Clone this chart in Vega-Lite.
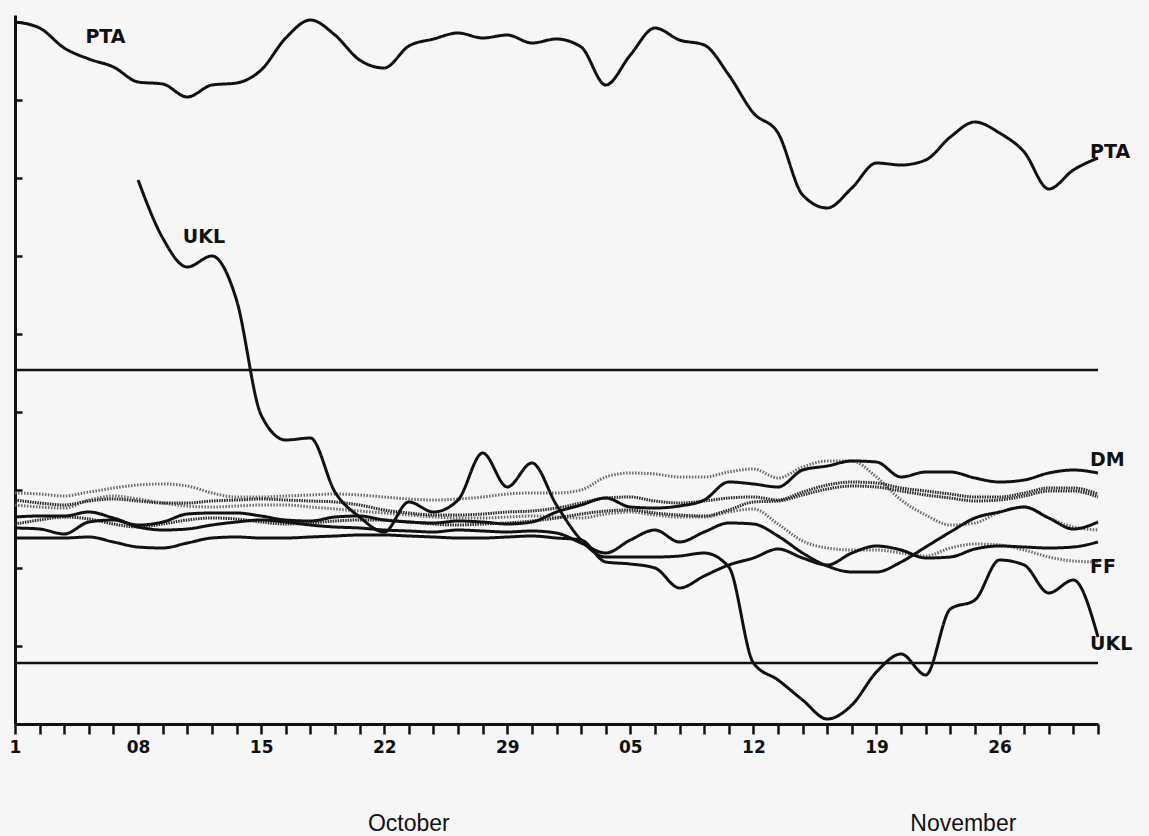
{
  "$schema": "https://vega.github.io/schema/vega-lite/v6.json",
  "width": 1083,
  "height": 709,
  "autosize": {"type": "none"},
  "padding": {"left": 15, "top": 15, "right": 51, "bottom": 112},
  "background": "#f6f6f6",
  "config": {"view": {"stroke": null}, "font": "DejaVu Sans"},
  "datasets": {
    "rates": [
      {"d":"1992-10-01","PTA":702,"DM":207,"BFR":224,"HFL":200,"DKR":231,"FF":219,"ESC":196,"IRL":186},
      {"d":"1992-10-02","PTA":696,"DM":208,"BFR":221,"HFL":204,"DKR":230,"FF":217,"ESC":195,"IRL":186},
      {"d":"1992-10-05","PTA":676,"DM":208,"BFR":219,"HFL":207,"DKR":228,"FF":216,"ESC":190,"IRL":186},
      {"d":"1992-10-06","PTA":665,"DM":212,"BFR":223,"HFL":205,"DKR":232,"FF":224,"ESC":202,"IRL":187},
      {"d":"1992-10-07","PTA":657,"DM":206,"BFR":225,"HFL":200,"DKR":236,"FF":228,"ESC":204,"IRL":182},
      {"d":"1992-10-08","PTA":642,"UKL":544,"DM":199,"BFR":223,"HFL":197,"DKR":239,"FF":225,"ESC":197,"IRL":177},
      {"d":"1992-10-09","PTA":640,"UKL":486,"DM":202,"BFR":221,"HFL":200,"DKR":240,"FF":221,"ESC":194,"IRL":176},
      {"d":"1992-10-12","PTA":627,"UKL":457,"DM":210,"BFR":221,"HFL":204,"DKR":238,"FF":218,"ESC":195,"IRL":181},
      {"d":"1992-10-13","PTA":639,"UKL":468,"DM":211,"BFR":223,"HFL":206,"DKR":231,"FF":217,"ESC":199,"IRL":186},
      {"d":"1992-10-14","PTA":641,"UKL":424,"DM":211,"BFR":224,"HFL":205,"DKR":227,"FF":218,"ESC":202,"IRL":187},
      {"d":"1992-10-15","PTA":654,"UKL":309,"DM":208,"BFR":225,"HFL":202,"DKR":227,"FF":219,"ESC":204,"IRL":186},
      {"d":"1992-10-16","PTA":686,"UKL":284,"DM":204,"BFR":224,"HFL":200,"DKR":228,"FF":219,"ESC":202,"IRL":186},
      {"d":"1992-10-19","PTA":704,"UKL":286,"DM":203,"BFR":223,"HFL":201,"DKR":229,"FF":217,"ESC":199,"IRL":187},
      {"d":"1992-10-20","PTA":689,"UKL":232,"DM":207,"BFR":222,"HFL":203,"DKR":230,"FF":215,"ESC":197,"IRL":188},
      {"d":"1992-10-21","PTA":664,"UKL":207,"DM":208,"BFR":219,"HFL":204,"DKR":229,"FF":213,"ESC":196,"IRL":189},
      {"d":"1992-10-22","PTA":656,"UKL":192,"DM":204,"BFR":214,"HFL":204,"DKR":227,"FF":211,"ESC":194,"IRL":189},
      {"d":"1992-10-23","PTA":678,"UKL":222,"DM":202,"BFR":211,"HFL":202,"DKR":225,"FF":209,"ESC":193,"IRL":188},
      {"d":"1992-10-26","PTA":685,"UKL":212,"DM":201,"BFR":209,"HFL":200,"DKR":224,"FF":207,"ESC":192,"IRL":187},
      {"d":"1992-10-27","PTA":691,"UKL":224,"DM":203,"BFR":209,"HFL":199,"DKR":225,"FF":206,"ESC":194,"IRL":186},
      {"d":"1992-10-28","PTA":686,"UKL":271,"DM":202,"BFR":210,"HFL":200,"DKR":227,"FF":206,"ESC":193,"IRL":186},
      {"d":"1992-10-29","PTA":689,"UKL":237,"DM":200,"BFR":212,"HFL":201,"DKR":230,"FF":207,"ESC":192,"IRL":187},
      {"d":"1992-10-30","PTA":681,"UKL":261,"DM":202,"BFR":213,"HFL":203,"DKR":231,"FF":208,"ESC":193,"IRL":188},
      {"d":"1992-11-02","PTA":685,"UKL":219,"DM":212,"BFR":216,"HFL":206,"DKR":231,"FF":207,"ESC":191,"IRL":186},
      {"d":"1992-11-03","PTA":677,"UKL":184,"DM":219,"BFR":221,"HFL":210,"DKR":234,"FF":206,"ESC":181,"IRL":184},
      {"d":"1992-11-04","PTA":639,"UKL":167,"DM":226,"BFR":226,"HFL":213,"DKR":247,"FF":210,"ESC":171,"IRL":162},
      {"d":"1992-11-05","PTA":669,"UKL":167,"DM":217,"BFR":227,"HFL":214,"DKR":251,"FF":212,"ESC":184,"IRL":160},
      {"d":"1992-11-06","PTA":696,"UKL":167,"DM":216,"BFR":223,"HFL":211,"DKR":250,"FF":209,"ESC":194,"IRL":156},
      {"d":"1992-11-09","PTA":684,"UKL":168,"DM":218,"BFR":221,"HFL":209,"DKR":247,"FF":207,"ESC":182,"IRL":136},
      {"d":"1992-11-10","PTA":679,"UKL":171,"DM":224,"BFR":223,"HFL":208,"DKR":247,"FF":207,"ESC":192,"IRL":148},
      {"d":"1992-11-11","PTA":649,"UKL":157,"DM":242,"BFR":226,"HFL":214,"DKR":252,"FF":212,"ESC":201,"IRL":159},
      {"d":"1992-11-12","PTA":611,"UKL":61,"DM":240,"BFR":227,"HFL":222,"DKR":255,"FF":215,"ESC":200,"IRL":166},
      {"d":"1992-11-13","PTA":591,"UKL":44,"DM":237,"BFR":224,"HFL":223,"DKR":246,"FF":200,"ESC":188,"IRL":175},
      {"d":"1992-11-16","PTA":529,"UKL":24,"DM":254,"BFR":232,"HFL":229,"DKR":257,"FF":183,"ESC":171,"IRL":166},
      {"d":"1992-11-17","PTA":516,"UKL":5,"DM":258,"BFR":239,"HFL":235,"DKR":263,"FF":176,"ESC":158,"IRL":159},
      {"d":"1992-11-18","PTA":536,"UKL":19,"DM":263,"BFR":242,"HFL":238,"DKR":263,"FF":174,"ESC":152,"IRL":171},
      {"d":"1992-11-19","PTA":561,"UKL":52,"DM":262,"BFR":241,"HFL":237,"DKR":247,"FF":174,"ESC":152,"IRL":178},
      {"d":"1992-11-20","PTA":559,"UKL":70,"DM":247,"BFR":236,"HFL":233,"DKR":224,"FF":171,"ESC":162,"IRL":174},
      {"d":"1992-11-23","PTA":564,"UKL":49,"DM":252,"BFR":233,"HFL":229,"DKR":209,"FF":168,"ESC":177,"IRL":166},
      {"d":"1992-11-24","PTA":587,"UKL":115,"DM":252,"BFR":230,"HFL":226,"DKR":199,"FF":176,"ESC":192,"IRL":167},
      {"d":"1992-11-25","PTA":602,"UKL":124,"DM":246,"BFR":227,"HFL":223,"DKR":201,"FF":180,"ESC":206,"IRL":175},
      {"d":"1992-11-26","PTA":591,"UKL":164,"DM":242,"BFR":227,"HFL":224,"DKR":212,"FF":179,"ESC":212,"IRL":178},
      {"d":"1992-11-27","PTA":572,"UKL":159,"DM":244,"BFR":231,"HFL":228,"DKR":217,"FF":174,"ESC":217,"IRL":177},
      {"d":"1992-11-30","PTA":535,"UKL":131,"DM":251,"BFR":236,"HFL":233,"DKR":206,"FF":167,"ESC":206,"IRL":176},
      {"d":"1992-12-01","PTA":554,"UKL":144,"DM":254,"BFR":236,"HFL":233,"DKR":197,"FF":163,"ESC":195,"IRL":177},
      {"d":"1992-12-02","PTA":566,"UKL":87,"DM":251,"BFR":230,"HFL":227,"DKR":194,"FF":162,"ESC":202,"IRL":182}
    ]
  },
  "layer": [
    {
      "data": {"name": "rates"},
      "transform": [
        {"fold": ["DKR", "FF", "BFR", "HFL", "IRL", "ESC", "DM", "UKL", "PTA"], "as": ["c", "v"]},
        {"filter": "isValid(datum.v)"}
      ],
      "mark": {"type": "line", "interpolate": "monotone", "strokeWidth": 3},
      "encoding": {
        "x": {
          "field": "d", "type": "ordinal",
          "scale": {"type": "point", "padding": 0},
          "axis": {
            "title": null, "grid": false,
            "domainColor": "#111111", "domainWidth": 3,
            "tickColor": "#111111", "tickWidth": 2.5, "tickSize": 10,
            "labelExpr": "datum.value == '1992-10-01' ? '1' : (indexof(['1992-10-08','1992-10-15','1992-10-22','1992-10-29','1992-11-05','1992-11-12','1992-11-19','1992-11-26'], datum.value) >= 0 ? substring(datum.value, 8, 10) : '')",
            "labelAngle": 0, "labelAlign": "center", "labelBaseline": "top",
            "labelFont": "DejaVu Sans", "labelFontWeight": "bold", "labelFontSize": 17,
            "labelColor": "#111111", "labelPadding": 5,
            "labelOverlap": false, "labelBound": false, "labelFlush": false
          }
        },
        "y": {
          "field": "v", "type": "quantitative",
          "scale": {"domain": [0, 709], "nice": false, "zero": false},
          "axis": {
            "title": null, "grid": false, "labels": false,
            "values": [78, 156, 234, 312, 390, 468, 546, 624, 702],
            "domainColor": "#111111", "domainWidth": 3,
            "tickColor": "#111111", "tickWidth": 2.5, "tickSize": -7
          }
        },
        "color": {
          "field": "c", "type": "nominal", "legend": null,
          "scale": {
            "domain": ["PTA", "UKL", "DM", "ESC", "IRL", "BFR", "HFL", "DKR", "FF"],
            "range": ["#111111", "#111111", "#111111", "#111111", "#111111", "#2a2a2a", "#2a2a2a", "#6a6a6a", "#6a6a6a"]
          }
        },
        "strokeDash": {
          "field": "c", "type": "nominal", "legend": null,
          "scale": {
            "domain": ["PTA", "UKL", "DM", "ESC", "IRL", "BFR", "HFL", "DKR", "FF"],
            "range": [[1, 0], [1, 0], [1, 0], [1, 0], [1, 0], [1.5, 1], [1.5, 1], [1.5, 1.5], [1.5, 1.5]]
          }
        }
      }
    },
    {
      "data": {"values": [{"r": 354}, {"r": 61}]},
      "mark": {"type": "rule", "color": "#111111", "strokeWidth": 2.5},
      "encoding": {
        "y": {"field": "r", "type": "quantitative", "title": null}
      }
    },
    {
      "data": {"values": [
        {"t": "PTA", "d": "1992-10-07", "v": 687},
        {"t": "UKL", "d": "1992-10-13", "v": 487}
      ]},
      "mark": {"type": "text", "font": "DejaVu Sans", "fontWeight": "bold", "fontSize": 19, "color": "#111111", "align": "center", "baseline": "middle", "dx": -8},
      "encoding": {
        "x": {"field": "d", "type": "ordinal", "title": null},
        "y": {"field": "v", "type": "quantitative", "title": null},
        "text": {"field": "t"}
      }
    },
    {
      "data": {"values": [
        {"t": "PTA", "d": "1992-12-02", "v": 572},
        {"t": "DM", "d": "1992-12-02", "v": 264},
        {"t": "FF", "d": "1992-12-02", "v": 157},
        {"t": "UKL", "d": "1992-12-02", "v": 80}
      ]},
      "mark": {"type": "text", "font": "DejaVu Sans", "fontWeight": "bold", "fontSize": 19, "color": "#111111", "align": "left", "baseline": "middle", "dx": -8},
      "encoding": {
        "x": {"field": "d", "type": "ordinal", "title": null},
        "y": {"field": "v", "type": "quantitative", "title": null},
        "text": {"field": "t"}
      }
    },
    {
      "data": {"values": [{"t": "October", "d": "1992-10-23", "v": -100}]},
      "mark": {"type": "text", "font": "Liberation Sans", "fontSize": 23, "color": "#111111", "align": "center", "baseline": "middle"},
      "encoding": {
        "x": {"field": "d", "type": "ordinal", "title": null},
        "y": {"field": "v", "type": "quantitative", "title": null},
        "text": {"field": "t"}
      }
    },
    {
      "data": {"values": [{"t": "November", "d": "1992-11-24", "v": -100}]},
      "mark": {"type": "text", "font": "Liberation Sans", "fontSize": 23, "color": "#111111", "align": "center", "baseline": "middle", "dx": 13},
      "encoding": {
        "x": {"field": "d", "type": "ordinal", "title": null},
        "y": {"field": "v", "type": "quantitative", "title": null},
        "text": {"field": "t"}
      }
    }
  ]
}
